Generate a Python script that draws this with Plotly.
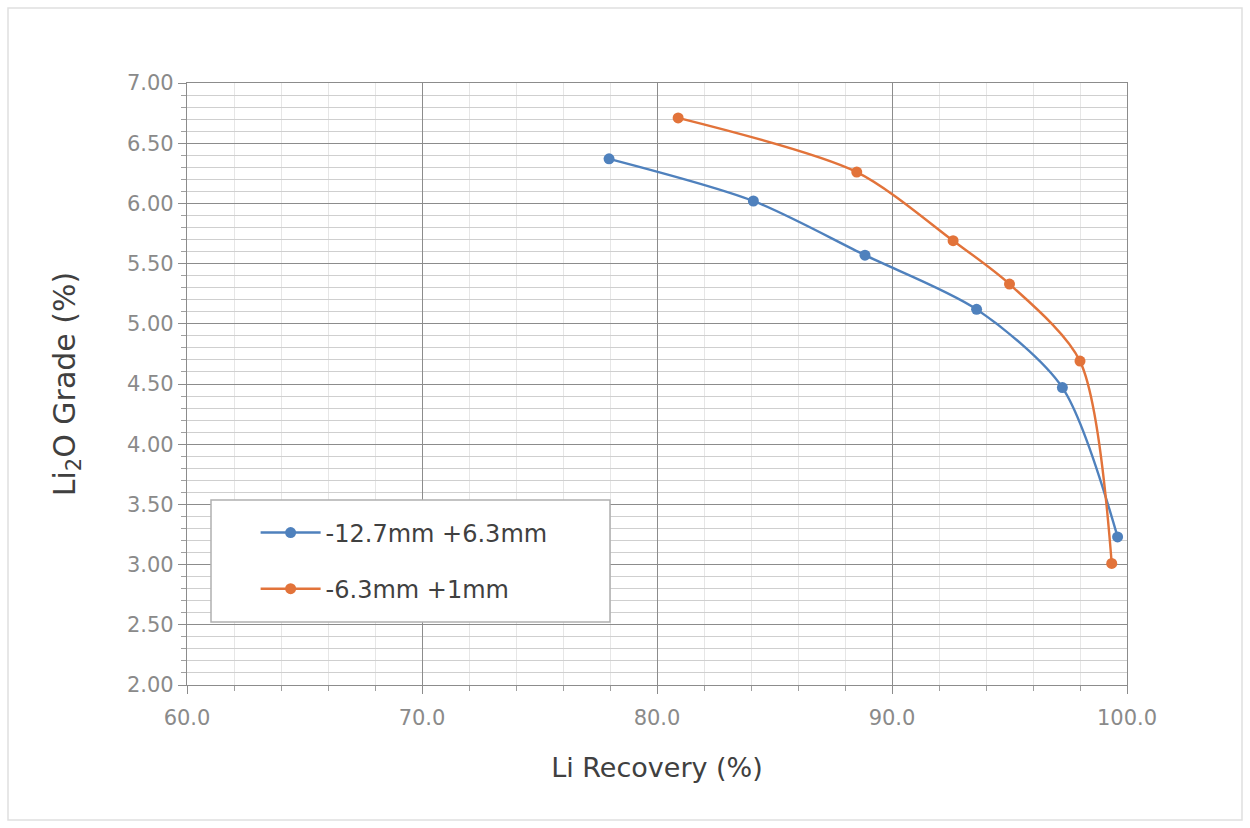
import plotly.graph_objects as go

blue_x = [77.96, 84.1, 88.85, 93.6, 97.25, 99.6]
blue_y = [6.37, 6.02, 5.57, 5.12, 4.47, 3.23]
orange_x = [80.9, 88.5, 92.6, 95.0, 98.0, 99.35]
orange_y = [6.71, 6.26, 5.69, 5.33, 4.69, 3.01]
names = ["-12.7mm +6.3mm", "-6.3mm +1mm"]
colors = ["#4f81bd", "#e2733a"]

fig = go.Figure()
for xs, ys, nm, c, g in [(blue_x, blue_y, names[0], colors[0], "a"), (orange_x, orange_y, names[1], colors[1], "b")]:
    fig.add_trace(go.Scatter(x=xs, y=ys, name=nm, mode="lines+markers",
                             line=dict(color=c, width=2.4, shape="spline", smoothing=0.8),
                             marker=dict(color=c, size=11, symbol="circle"),
                             legendgroup=g))

FONT = "DejaVu Sans, Liberation Sans, sans-serif"
fig.update_layout(
    width=1250, height=828,
    margin=dict(l=187, r=123, t=83, b=143),
    paper_bgcolor="white", plot_bgcolor="white",
    font=dict(family=FONT, color="#404040"),
    showlegend=True,
    legend=dict(x=0.073, y=0.29, xanchor="left", yanchor="top",
                bgcolor="rgba(0,0,0,0)", font=dict(size=24, color="#404040", family=FONT),
                tracegroupgap=22, traceorder="grouped", itemwidth=60),
    xaxis=dict(range=[60, 100], dtick=10, tickformat=".1f",
               tickfont=dict(size=21, color="#8a8a8a", family=FONT),
               ticklabelstandoff=6,
               title=dict(text="Li Recovery (%)", font=dict(size=27, color="#404040", family=FONT), standoff=28),
               showgrid=True, gridcolor="#8c8c8c", gridwidth=1.3,
               minor=dict(dtick=2, showgrid=True, gridcolor="#e6e6e6", gridwidth=1,
                          ticks="outside", ticklen=5, tickcolor="#a0a0a0"),
               ticks="outside", ticklen=8, tickcolor="#8c8c8c",
               showline=True, linecolor="#8c8c8c", linewidth=1.3, mirror=True,
               zeroline=False),
    yaxis=dict(range=[2, 7], dtick=0.5, tickformat=".2f",
               tickfont=dict(size=21, color="#8a8a8a", family=FONT),
               title=dict(text="Li<sub>2</sub>O Grade (%)", font=dict(size=30, color="#404040", family=FONT), standoff=42),
               showgrid=True, gridcolor="#8c8c8c", gridwidth=1.3,
               minor=dict(dtick=0.1, showgrid=True, gridcolor="#cfcfcf", gridwidth=1,
                          ticks="outside", ticklen=5, tickcolor="#a0a0a0"),
               ticks="outside", ticklen=8, tickcolor="#8c8c8c",
               showline=True, linecolor="#8c8c8c", linewidth=1.3, mirror=True,
               zeroline=False),
)

# legend box
fig.add_shape(type="rect", xref="paper", yref="paper", layer="above",
              x0=(211 - 187) / 940, x1=(610 - 187) / 940,
              y0=1 - (622 - 83) / 602, y1=1 - (500 - 83) / 602,
              line=dict(color="#b0b0b0", width=1.5), fillcolor="white")
# outer chart frame
fig.add_shape(type="rect", xref="paper", yref="paper", layer="below",
              x0=-179 / 940, x1=1 + 115 / 940, y0=-135 / 602, y1=1 + 75 / 602,
              line=dict(color="#e0e0e0", width=1.5), fillcolor="rgba(0,0,0,0)")

fig.write_html("out.html")
